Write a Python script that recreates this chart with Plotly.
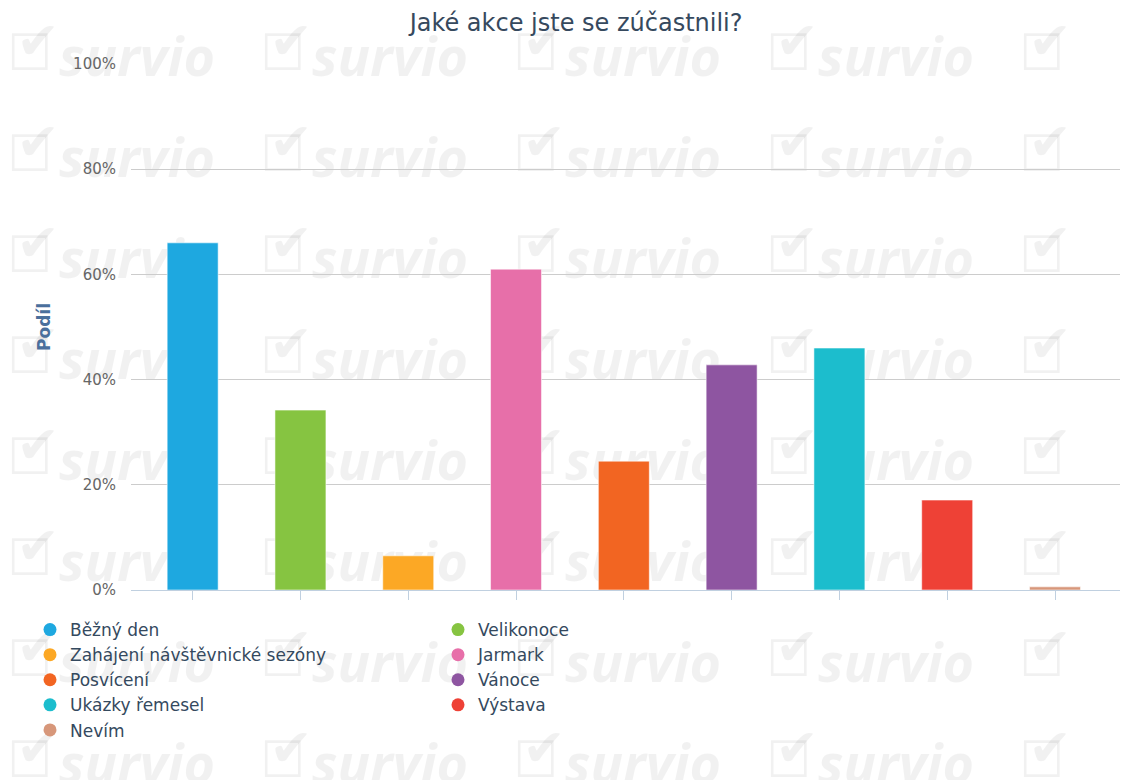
import plotly.graph_objects as go

categories = ["Běžný den", "Velikonoce", "Zahájení návštěvnické sezóny", "Jarmark",
              "Posvícení", "Vánoce", "Ukázky řemesel", "Výstava", "Nevím"]
values = [66.0, 34.2, 6.5, 61.0, 24.5, 42.8, 46.0, 17.1, 0.6]
colors = ["#1ea8e0", "#86c441", "#fca825", "#e76fa9", "#f26522",
          "#8e55a1", "#1cbdcd", "#ee4136", "#d7977a"]
y_ticks = [0, 20, 40, 60, 80, 100]
y_tick_labels = ["0%", "20%", "40%", "60%", "80%", "100%"]

W, H = 1143, 780
PL, PR, PT, PB = 131, 1120, 64, 590   # plot area in pixels
FONT = "DejaVu Sans"

fig = go.Figure()

# decorative watermark on a full-page base subplot (pixel units)
wm_col = "rgba(0,0,0,0.055)"
bx, by, kx, ky, wx, wy = [], [], [], [], [], []
for r in range(8):
    for c in range(5):
        bx.append(30 + 253 * c); by.append(57 + 101 * r)
        kx.append(38 + 253 * c); ky.append(46 + 101 * r)
        wx.append(137 + 253 * c); wy.append(62 + 101 * r)
fig.add_trace(go.Scatter(x=bx, y=by, mode="text", text=["☐"] * len(bx),
                         textposition="middle center", cliponaxis=False,
                         textfont=dict(family="DejaVu Sans", size=50, color=wm_col),
                         hoverinfo="skip", showlegend=False, xaxis="x", yaxis="y"))
fig.add_trace(go.Scatter(x=kx, y=ky, mode="text", text=["✔"] * len(kx),
                         textposition="middle center", cliponaxis=False,
                         textfont=dict(family="DejaVu Sans", size=52, color=wm_col),
                         hoverinfo="skip", showlegend=False, xaxis="x", yaxis="y"))
fig.add_trace(go.Scatter(x=wx, y=wy, mode="text", text=["survio"] * len(wx),
                         textposition="middle center", cliponaxis=False,
                         textfont=dict(family="Open Sans", size=54, color=wm_col,
                                       weight="bold", style="italic"),
                         hoverinfo="skip", showlegend=False, xaxis="x", yaxis="y"))

# bars
for cat, val, col in zip(categories, values, colors):
    fig.add_trace(go.Bar(x=[cat], y=[val], width=0.473, marker=dict(
        color=col, line=dict(color="rgba(255,255,255,0.55)", width=1)),
        showlegend=False, hoverinfo="skip", xaxis="x2", yaxis="y2"))

# legend entries (circles)
for cat, col in zip(categories, colors):
    fig.add_trace(go.Scatter(x=[None], y=[None], mode="markers", name=cat,
                             marker=dict(color=col, size=13, symbol="circle"),
                             xaxis="x2", yaxis="y2"))

fig.update_layout(
    width=W, height=H,
    margin=dict(l=0, r=0, t=0, b=0, autoexpand=False),
    paper_bgcolor="white", plot_bgcolor="rgba(0,0,0,0)",
    barmode="overlay", hovermode=False,
    title=dict(text="Jaké akce jste se zúčastnili?", x=0.504, xanchor="center",
               y=1 - 23 / H, yanchor="middle",
               font=dict(family=FONT, size=24, color="#36495e")),
    xaxis=dict(domain=[0, 1], range=[0, W], visible=False, fixedrange=True),
    yaxis=dict(domain=[0, 1], range=[H, 0], visible=False, fixedrange=True),
    xaxis2=dict(domain=[PL / W, PR / W], anchor="y2", type="category",
                categoryorder="array", categoryarray=categories,
                range=[-0.572, 8.603], showticklabels=False,
                ticks="outside", ticklen=9, tickcolor="#c0d0e0", tickwidth=1,
                showline=True, linecolor="#c0d0e0", linewidth=1,
                showgrid=False, zeroline=False, fixedrange=True),
    yaxis2=dict(domain=[1 - PB / H, 1 - PT / H], anchor="x2", range=[0, 100],
                tickvals=y_ticks, ticktext=y_tick_labels,
                tickfont=dict(family=FONT, size=15, color="#666666"),
                ticks="", ticklabelstandoff=14,
                showgrid=True, gridcolor="#cccccc", gridwidth=1,
                zeroline=False, showline=False, fixedrange=True,
                title=dict(text="<b>Podíl</b>", standoff=18,
                           font=dict(family=FONT, size=17, color="#4a6f9c"))),
    legend=dict(orientation="h", x=30 / W, xanchor="left",
                y=1 - 612 / H, yanchor="top",
                entrywidth=363, entrywidthmode="pixels", itemwidth=30,
                traceorder="normal",
                font=dict(family=FONT, size=17, color="#34495e"),
                bgcolor="rgba(0,0,0,0)"),
)

fig.write_html("out.html", config={"displayModeBar": False},
               post_script="document.body.style.margin='0';")
